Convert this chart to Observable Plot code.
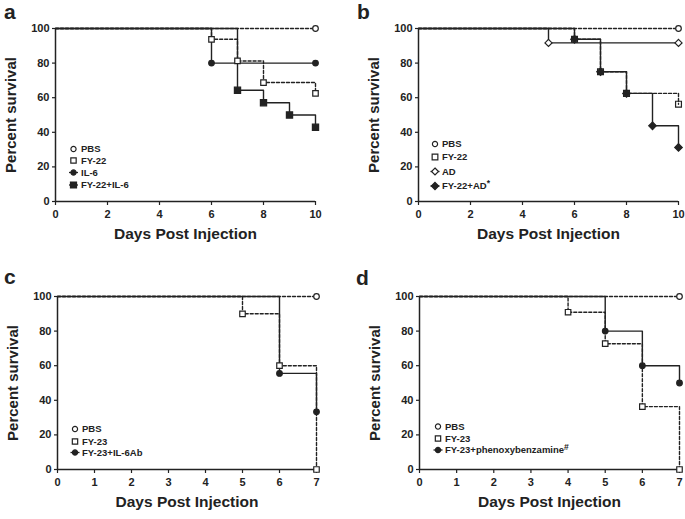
<!DOCTYPE html>
<html><head><meta charset="utf-8">
<script src="https://cdn.jsdelivr.net/npm/d3@7"></script>
<script src="https://cdn.jsdelivr.net/npm/@observablehq/plot@0.6"></script>
<style>
body{margin:0;background:#fff;}
#root{position:relative;width:685px;height:519px;font-family:"Liberation Sans",Arial,Helvetica,sans-serif;font-weight:bold;color:#222;overflow:hidden;}
.panel{position:absolute;}
.letter{position:absolute;font-size:21px;font-weight:bold;line-height:1.1;}
#legend{position:absolute;left:0;top:0;pointer-events:none;}
</style></head><body><div id="root"></div>
<script>
// ---------- DATA ----------
// Panel a (days 0-10)
const a_PBS_day = [0, 10];            const a_PBS_pct = [100, 100];
const a_FY22_day = [0, 6, 7, 8, 10];  const a_FY22_pct = [100, 93.75, 81.25, 68.75, 62.5];
const a_IL6_day = [0, 6, 10];         const a_IL6_pct = [100, 80, 80];
const a_FY22IL6_day = [0, 7, 8, 9, 10]; const a_FY22IL6_pct = [100, 64.3, 57.1, 50, 42.9];
// Panel b (days 0-10)
const b_PBS_day = [0, 10];            const b_PBS_pct = [100, 100];
const b_FY22_day = [0, 6, 7, 8, 10];  const b_FY22_pct = [100, 93.75, 75, 62.5, 56.25];
const b_AD_day = [0, 5, 10];          const b_AD_pct = [100, 91.67, 91.67];
const b_FY22AD_day = [0, 6, 7, 8, 9, 10]; const b_FY22AD_pct = [100, 93.75, 75, 62.5, 43.75, 31.25];
// Panel c (days 0-7)
const c_PBS_day = [0, 7];             const c_PBS_pct = [100, 100];
const c_FY23_day = [0, 5, 6, 7];      const c_FY23_pct = [100, 90, 60, 0];
const c_FY23Ab_day = [0, 6, 7];       const c_FY23Ab_pct = [100, 55.56, 33.33];
// Panel d (days 0-7)
const d_PBS_day = [0, 7];             const d_PBS_pct = [100, 100];
const d_FY23_day = [0, 4, 5, 6, 7];   const d_FY23_pct = [100, 90.91, 72.73, 36.36, 0];
const d_FY23PB_day = [0, 5, 6, 7];    const d_FY23PB_pct = [100, 80, 60, 50];

const tickLabelsY = [0, 20, 40, 60, 80, 100];
const tickLabelsX10 = [0, 2, 4, 6, 8, 10];
const tickLabelsX7 = [0, 1, 2, 3, 4, 5, 6, 7];
const legendA = ["PBS", "FY-22", "IL-6", "FY-22+IL-6"];
const legendB = ["PBS", "FY-22", "AD", "FY-22+AD"];
const legendC = ["PBS", "FY-23", "FY-23+IL-6Ab"];
const legendD = ["PBS", "FY-23", "FY-23+phenoxybenzamine"];
const xTitle = "Days Post Injection";
const yTitle = "Percent survival";

// ---------- STYLES ----------
const INK = "#222";
const FONT = '"Liberation Sans",Arial,Helvetica,sans-serif';
const S = {
  openCircle: {symbol: "circle", fill: "white", r: 2.8},
  openSquare: {symbol: "square", fill: "white", r: 3.1},
  openSquareNoFill: {symbol: "square", fill: "none", r: 3.3},
  filledCircle: {symbol: "circle", fill: INK, r: 2.8},
  filledSquare: {symbol: "square", fill: INK, r: 3.5},
  openDiamond: {symbol: "diamond2", fill: "white", r: 3.2},
  filledDiamond: {symbol: "diamond2", fill: INK, r: 3.4}
};

function ser(day, pct, name, dashed, sym) { return {day, pct, name, dashed, sym}; }

const panels = [
  {id: "a", left: 0, top: 0, width: 342, height: 260, mt: 28, mb: 59, ml: 55, mr: 27, xmax: 10, xticks: tickLabelsX10,
   series: [ser(a_PBS_day, a_PBS_pct, legendA[0], true, S.openCircle), ser(a_FY22_day, a_FY22_pct, legendA[1], true, S.openSquare),
            ser(a_IL6_day, a_IL6_pct, legendA[2], false, S.filledCircle), ser(a_FY22IL6_day, a_FY22IL6_pct, legendA[3], false, S.filledSquare)],
   letter: {x: 4, y: 0}, legend: {mx: 73.5, tx: 81, ys: [149, 160.5, 172.5, 185]}},
  {id: "b", left: 342, top: 0, width: 343, height: 260, mt: 28, mb: 59, ml: 76, mr: 7, xmax: 10, xticks: tickLabelsX10,
   series: [ser(b_PBS_day, b_PBS_pct, legendB[0], true, S.openCircle), ser(b_FY22_day, b_FY22_pct, legendB[1], true, S.openSquareNoFill),
            ser(b_AD_day, b_AD_pct, legendB[2], false, S.openDiamond), ser(b_FY22AD_day, b_FY22AD_pct, legendB[3], false, S.filledDiamond)],
   letter: {x: 357, y: 0}, legend: {mx: 435, tx: 442, ys: [144, 157, 171.5, 186]}, sup: "*"},
  {id: "c", left: 0, top: 260, width: 342, height: 259, mt: 36, mb: 50, ml: 57, mr: 26, xmax: 7, xticks: tickLabelsX7,
   series: [ser(c_PBS_day, c_PBS_pct, legendC[0], true, S.openCircle), ser(c_FY23_day, c_FY23_pct, legendC[1], true, S.openSquare),
            ser(c_FY23Ab_day, c_FY23Ab_pct, legendC[2], false, S.filledCircle)],
   letter: {x: 4, y: 265}, legend: {mx: 75, tx: 82, ys: [429, 441.5, 452.5]}},
  {id: "d", left: 342, top: 260, width: 343, height: 259, mt: 36, mb: 50, ml: 77, mr: 6, xmax: 7, xticks: tickLabelsX7,
   series: [ser(d_PBS_day, d_PBS_pct, legendD[0], true, S.openCircle), ser(d_FY23_day, d_FY23_pct, legendD[1], true, S.openSquare),
            ser(d_FY23PB_day, d_FY23PB_pct, legendD[2], false, S.filledCircle)],
   letter: {x: 356, y: 266}, legend: {mx: 438, tx: 445, ys: [426.5, 438.5, 450]}, sup: "#"}
];

const root = document.getElementById("root");

for (const p of panels) {
  const lineMarks = [];
  const dotMarks = [];
  const ordered = [...p.series.filter(s => s.dashed), ...p.series.filter(s => !s.dashed)];
  for (const s of ordered) {
    const rows = s.day.map((d, i) => ({day: d, pct: s.pct[i], i}));
    lineMarks.push(Plot.line(rows, {x: "day", y: "pct", curve: "step-after", stroke: INK, strokeWidth: 1.4,
      strokeDasharray: s.dashed ? "3,2" : null}));
  }
  for (const s of p.series) {
    const rows = s.day.map((d, i) => ({day: d, pct: s.pct[i], i})).filter(r => r.i > 0);
    dotMarks.push(Plot.dot(rows, {x: "day", y: "pct", symbol: s.sym.symbol, r: s.sym.r, fill: s.sym.fill, stroke: INK, strokeWidth: 1.2}));
  }
  const chart = Plot.plot({
    width: p.width, height: p.height,
    marginTop: p.mt, marginBottom: p.mb, marginLeft: p.ml, marginRight: p.mr,
    style: {fontFamily: FONT, fontWeight: "bold", color: INK, background: "transparent", overflow: "visible"},
    x: {domain: [0, p.xmax]},
    y: {domain: [0, 100]},
    marks: [
      Plot.axisX({ticks: p.xticks, tickFormat: d3.format("d"), tickSize: 4, tickPadding: 5, label: null, fontSize: 11, fontWeight: "bold", strokeWidth: 1.2}),
      Plot.axisY({ticks: tickLabelsY, tickFormat: d3.format("d"), tickSize: 3, tickPadding: 3, label: null, fontSize: 11, fontWeight: "bold", strokeWidth: 1.2}),
      Plot.ruleY([0], {stroke: INK, strokeWidth: 1.5}),
      Plot.ruleX([0], {stroke: INK, strokeWidth: 1.5}),
      ...lineMarks,
      ...dotMarks,
      Plot.text([xTitle], {text: d => d, frameAnchor: "bottom", dy: 37, fontSize: 15.5, fontWeight: "bold", fill: INK}),
      Plot.text([yTitle], {text: d => d, frameAnchor: "left", textAnchor: "middle", lineAnchor: "middle", dx: -44, rotate: -90, fontSize: 15, fontWeight: "bold", fill: INK})
    ]
  });
  const div = document.createElement("div");
  div.className = "panel";
  div.style.left = p.left + "px";
  div.style.top = p.top + "px";
  div.appendChild(chart);
  root.appendChild(div);

  const L = document.createElement("div");
  L.className = "letter";
  L.style.left = p.letter.x + "px";
  L.style.top = p.letter.y + "px";
  L.textContent = p.id;
  root.appendChild(L);
}

// ---------- LEGENDS ----------
const svg = d3.select(root).append("svg").attr("id", "legend").attr("width", 685).attr("height", 519);
const symMap = {circle: d3.symbolCircle, square: d3.symbolSquare, diamond2: d3.symbolDiamond2 || d3.symbolDiamond};
for (const p of panels) {
  p.series.forEach((s, k) => {
    const y = p.legend.ys[k];
    const g = svg.append("g");
    if (!s.dashed) {
      g.append("line").attr("x1", p.legend.mx - 4.5).attr("x2", p.legend.mx + 4.5).attr("y1", y).attr("y2", y)
        .attr("stroke", INK).attr("stroke-width", 1.3);
    }
    const sym = s.sym;
    const fill = sym.fill === "none" ? "white" : sym.fill;
    g.append("path").attr("transform", `translate(${p.legend.mx},${y})`)
      .attr("d", d3.symbol(symMap[sym.symbol], Math.PI * sym.r * sym.r * (sym.symbol === "circle" ? 0.85 : 0.95))())
      .attr("fill", fill).attr("stroke", INK).attr("stroke-width", 1.2);
    const t = g.append("text").attr("x", p.legend.tx).attr("y", y).attr("dy", "0.35em")
      .attr("font-family", FONT).attr("font-weight", "bold").attr("font-size", 9.5).attr("fill", INK)
      .text(s.name);
    if (p.sup && k === p.series.length - 1) {
      t.append("tspan").attr("dy", "-0.45em").attr("font-size", 8.5).text(p.sup);
    }
  });
}
</script></body></html>
